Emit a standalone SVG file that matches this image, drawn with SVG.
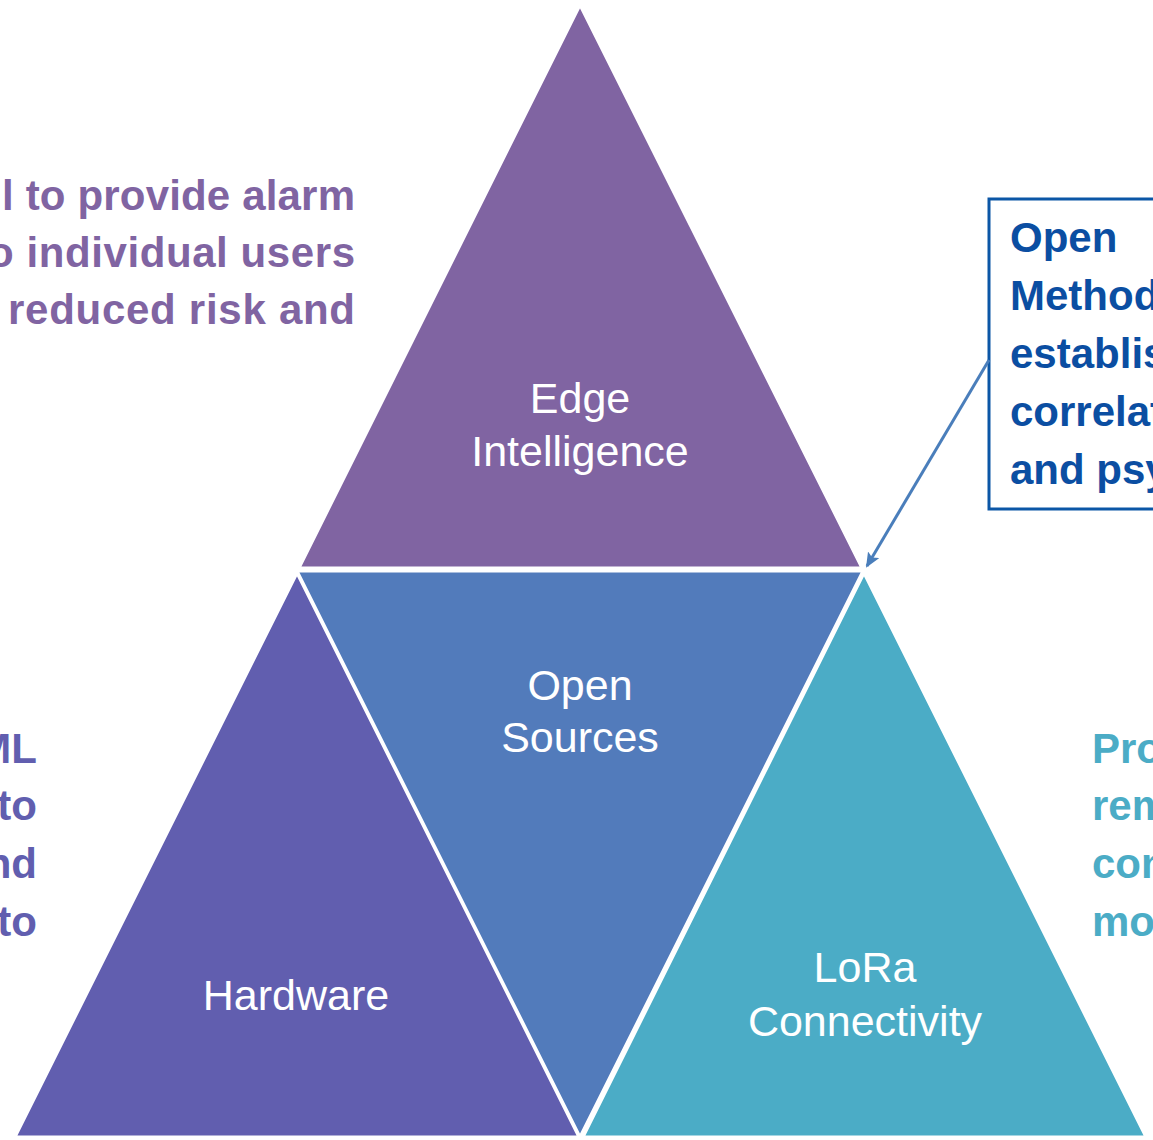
<svg xmlns="http://www.w3.org/2000/svg" width="1153" height="1140" viewBox="0 0 1153 1140">
<style>
.tri{stroke:#fff;stroke-width:3;stroke-linejoin:miter}
.lbl{font-family:"Liberation Sans",Arial,sans-serif;font-size:43px;fill:#fff;text-anchor:middle}
.side{font-family:"Liberation Sans",Arial,sans-serif;font-size:42px;font-weight:bold}
</style>
<defs>
<marker id="ah" markerWidth="15" markerHeight="13" refX="13" refY="6.5" orient="auto" markerUnits="userSpaceOnUse" viewBox="0 0 15 13">
<path d="M0,0 L15,6.5 L0,13 L3,6.5 Z" fill="#4A7EBB"/>
</marker>
</defs>
<rect width="1153" height="1140" fill="#fff"/>
<g id="edge-intelligence">
<polygon class="tri" points="580,5 299,568 862,568" fill="#8064A2"/>
<text class="lbl" x="580" y="413">Edge</text>
<text class="lbl" x="580" y="466">Intelligence</text>
</g>
<g id="open-sources">
<polygon class="tri" points="297,571 863,571 580,1137" fill="#527BBB"/>
<text class="lbl" x="580" y="700">Open</text>
<text class="lbl" x="580" y="752">Sources</text>
</g>
<g id="hardware">
<polygon class="tri" points="297,573 15,1137 579,1137" fill="#615EAF"/>
<text class="lbl" x="296" y="1010">Hardware</text>
</g>
<g id="lora">
<polygon class="tri" points="864,573 583,1137 1146,1137" fill="#4BACC6"/>
<text class="lbl" x="865" y="982">LoRa</text>
<text class="lbl" x="865" y="1036">Connectivity</text>
</g>
<g id="left-top-text" class="side" fill="#8064A2">
<text x="2" y="210" textLength="353" lengthAdjust="spacing">l to provide alarm</text>
<text x="-12" y="267" textLength="367" lengthAdjust="spacing">o individual users</text>
<text x="8" y="324" textLength="347" lengthAdjust="spacing">reduced risk and</text>
</g>
<g id="left-bottom-text" class="side" fill="#615EAF" text-anchor="end">
<text x="37" y="763">ML</text>
<text x="37" y="820">to</text>
<text x="37" y="878">nd</text>
<text x="37" y="936">to</text>
</g>
<g id="right-bottom-text" class="side" fill="#4BACC6">
<text x="1092" y="763">Pro</text>
<text x="1092" y="820">rem</text>
<text x="1092" y="878">con</text>
<text x="1092" y="936">mo</text>
</g>
<g id="open-methods-box">
<rect x="989" y="199" width="180" height="310" fill="#fff" stroke="#0B56A6" stroke-width="3"/>
<g class="side" fill="#0B4EA2">
<text x="1010" y="252">Open</text>
<text x="1010" y="310">Method</text>
<text x="1010" y="368">establis</text>
<text x="1010" y="426">correlat</text>
<text x="1010" y="484">and psy</text>
</g>
</g>
<g id="connectors">
<line x1="989" y1="360" x2="867" y2="566" stroke="#4A7EBB" stroke-width="3" marker-end="url(#ah)"/>
</g>
</svg>
